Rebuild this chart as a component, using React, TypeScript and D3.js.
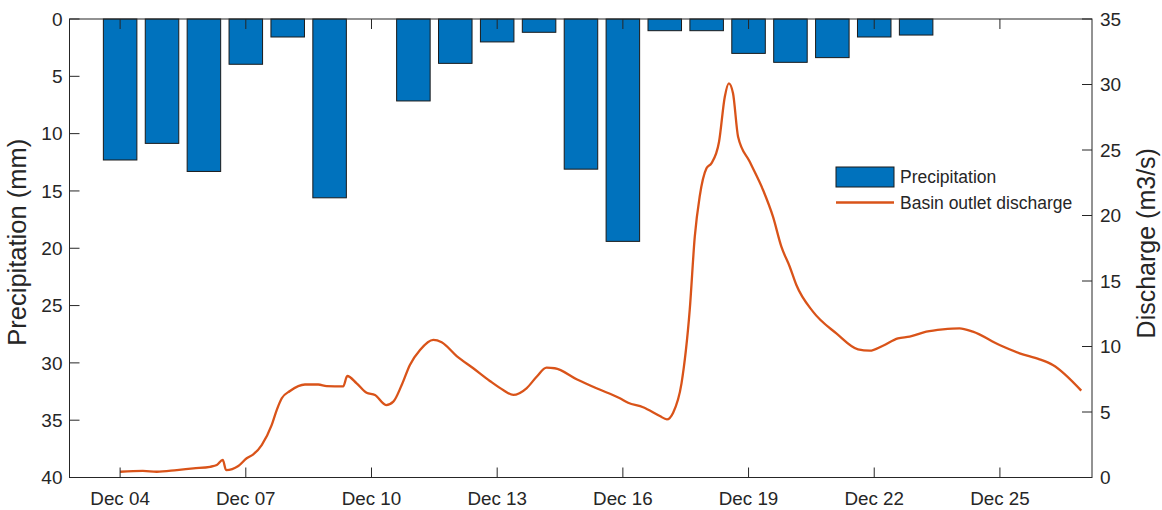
import React, { useRef, useEffect } from 'react';
import * as d3 from 'd3';

// daily precipitation (mm)
const precipDays = [
    '2019-12-04', '2019-12-05', '2019-12-06', '2019-12-07', '2019-12-08',
    '2019-12-09', '2019-12-10', '2019-12-11', '2019-12-12', '2019-12-13',
    '2019-12-14', '2019-12-15', '2019-12-16', '2019-12-17', '2019-12-18',
    '2019-12-19', '2019-12-20', '2019-12-21', '2019-12-22', '2019-12-23',
];
const precipValues = [
    12.3, 10.85, 13.3, 3.95, 1.57,
    15.6, 0, 7.15, 3.87, 2.0,
    1.16, 13.1, 19.4, 1.02, 1.02,
    3.0, 3.78, 3.37, 1.57, 1.4,
];

// basin outlet discharge (m3/s)
const dischargeTimes = [
    '2019-12-04T00:00', '2019-12-04T13:00', '2019-12-04T21:00', '2019-12-05T08:30', '2019-12-05T18:00',
    '2019-12-06T03:30', '2019-12-06T07:24', '2019-12-06T10:48', '2019-12-06T12:42', '2019-12-06T19:42',
    '2019-12-07T00:30', '2019-12-07T04:18', '2019-12-07T09:06', '2019-12-07T14:48', '2019-12-07T17:42',
    '2019-12-07T20:36', '2019-12-08T01:18', '2019-12-08T09:54', '2019-12-08T17:30', '2019-12-08T22:18',
    '2019-12-09T07:48', '2019-12-09T10:06', '2019-12-09T15:30', '2019-12-09T21:12', '2019-12-10T02:00',
    '2019-12-10T08:24', '2019-12-10T12:30', '2019-12-10T17:18', '2019-12-10T22:00', '2019-12-11T03:48',
    '2019-12-11T11:24', '2019-12-11T16:12', '2019-12-12T00:48', '2019-12-12T10:18', '2019-12-12T19:48',
    '2019-12-13T03:24', '2019-12-13T09:12', '2019-12-13T16:48', '2019-12-13T22:36', '2019-12-14T04:18',
    '2019-12-14T09:00', '2019-12-14T21:30', '2019-12-15T08:54', '2019-12-15T22:18', '2019-12-16T03:00',
    '2019-12-16T11:36', '2019-12-16T21:12', '2019-12-17T01:12', '2019-12-17T04:48', '2019-12-17T09:36',
    '2019-12-17T14:18', '2019-12-17T17:12', '2019-12-17T20:00', '2019-12-17T23:54', '2019-12-18T02:42',
    '2019-12-18T07:06', '2019-12-18T10:24', '2019-12-18T12:42', '2019-12-18T15:06', '2019-12-18T18:00',
    '2019-12-19T00:42', '2019-12-19T08:18', '2019-12-19T14:00', '2019-12-19T18:48', '2019-12-19T23:36',
    '2019-12-20T03:24', '2019-12-20T12:54', '2019-12-21T02:18', '2019-12-21T14:42', '2019-12-21T21:24',
    '2019-12-22T05:00', '2019-12-22T13:36', '2019-12-22T20:18', '2019-12-23T05:48', '2019-12-23T15:18',
    '2019-12-24T00:54', '2019-12-24T08:30', '2019-12-24T23:48', '2019-12-25T11:18', '2019-12-25T22:42',
    '2019-12-26T06:18', '2019-12-26T22:36',
];
const dischargeValues = [
    0.44, 0.5, 0.44, 0.57, 0.7,
    0.82, 0.95, 1.34, 0.57, 0.88,
    1.47, 1.77, 2.48, 4.0, 5.15,
    6.05, 6.6, 7.1, 7.1, 6.98,
    6.95, 7.75, 7.19, 6.47, 6.3,
    5.53, 5.79, 7.06, 8.59, 9.73,
    10.5, 10.32, 9.27, 8.34, 7.37,
    6.68, 6.3, 6.81, 7.69, 8.38,
    8.34, 7.5, 6.81, 6.05, 5.71,
    5.36, 4.69, 4.44, 4.95, 7.19,
    12.79, 18.38, 21.44, 23.6, 23.98,
    25.63, 29.07, 30.09, 29.33, 26.02,
    24.1, 21.95, 19.91, 17.62, 16.09,
    14.69, 12.66, 11.0, 9.78, 9.68,
    10.06, 10.62, 10.75, 11.13, 11.31,
    11.39, 11.13, 10.11, 9.48, 9.02,
    8.59, 6.63,
];

const xDomain = ['2019-12-02T19:00', '2019-12-27T04:45'];
const xTickDates = ['2019-12-04', '2019-12-07', '2019-12-10', '2019-12-13', '2019-12-16', '2019-12-19', '2019-12-22', '2019-12-25'];
const precipTicks = [0, 5, 10, 15, 20, 25, 30, 35, 40];
const dischargeTicks = [0, 5, 10, 15, 20, 25, 30, 35];

const parseDay = d3.timeParse('%Y-%m-%d');
const parseTime = d3.timeParse('%Y-%m-%dT%H:%M');

const W = 1162;
const H = 510;
const AXIS = '#262626';
const BAR = '#0072BD';
const LINE = '#D95319';
const FONT = '"Liberation Sans", Arial, Helvetica, sans-serif';

const Chart: React.FC = () => {
    const svgRef = useRef<SVGSVGElement | null>(null);

    useEffect(() => {
        if (!svgRef.current) return;

        const margin = { top: 19, right: 70, bottom: 32.5, left: 69.5 };
        const innerWidth = W - margin.left - margin.right;
        const innerHeight = H - margin.top - margin.bottom;

        const svg = d3.select(svgRef.current);
        svg.selectAll('*').remove();

        const g = svg.append('g')
            .attr('transform', `translate(${margin.left},${margin.top})`);

        const x = d3.scaleTime()
            .domain(xDomain.map(d => parseTime(d) as Date))
            .range([0, innerWidth]);

        // precipitation runs downward from the top
        const yP = d3.scaleLinear().domain([0, 40]).range([0, innerHeight]);
        const yQ = d3.scaleLinear().domain([0, 35]).range([innerHeight, 0]);

        // bars
        const bars = precipDays.map((d, i) => ({ date: parseDay(d) as Date, value: precipValues[i] }));
        const halfBar = (b: Date) => (x(d3.timeMinute.offset(b, 0.4 * 1440)) - x(b));
        g.selectAll('.bar')
            .data(bars.filter(b => b.value > 0))
            .enter().append('rect')
            .attr('class', 'bar')
            .attr('x', d => x(d.date) - halfBar(d.date))
            .attr('y', yP(0))
            .attr('width', d => 2 * halfBar(d.date))
            .attr('height', d => yP(d.value) - yP(0))
            .attr('fill', BAR)
            .attr('stroke', '#1a1a1a')
            .attr('stroke-width', 1);

        // discharge line
        const pts = dischargeTimes.map((t, i) => ({ date: parseTime(t) as Date, value: dischargeValues[i] }));
        const line = d3.line<{ date: Date; value: number }>()
            .x(d => x(d.date))
            .y(d => yQ(d.value))
            .curve(d3.curveMonotoneX);
        g.append('path')
            .datum(pts)
            .attr('d', line)
            .attr('fill', 'none')
            .attr('stroke', LINE)
            .attr('stroke-width', 2.3)
            .attr('stroke-linejoin', 'round');

        // box
        g.append('rect')
            .attr('x', 0).attr('y', 0)
            .attr('width', innerWidth).attr('height', innerHeight)
            .attr('fill', 'none')
            .attr('stroke', AXIS)
            .attr('stroke-width', 1);

        const tickLen = 10;

        // x ticks top and bottom, inward
        const xt = xTickDates.map(d => parseDay(d) as Date);
        g.selectAll('.xtick-b')
            .data(xt).enter().append('line')
            .attr('x1', d => x(d)).attr('x2', d => x(d))
            .attr('y1', innerHeight).attr('y2', innerHeight - tickLen)
            .attr('stroke', AXIS);
        g.selectAll('.xtick-t')
            .data(xt).enter().append('line')
            .attr('x1', d => x(d)).attr('x2', d => x(d))
            .attr('y1', 0).attr('y2', tickLen)
            .attr('stroke', AXIS);
        g.selectAll('.xlabel')
            .data(xt).enter().append('text')
            .attr('x', d => x(d))
            .attr('y', innerHeight + 27)
            .attr('text-anchor', 'middle')
            .attr('fill', AXIS)
            .style('font-size', '18.8px')
            .text(d => d3.timeFormat('%b %d')(d));

        // left axis
        g.selectAll('.ytick-l')
            .data(precipTicks).enter().append('line')
            .attr('x1', 0).attr('x2', tickLen)
            .attr('y1', d => yP(d)).attr('y2', d => yP(d))
            .attr('stroke', AXIS);
        g.selectAll('.ylabel-l')
            .data(precipTicks).enter().append('text')
            .attr('x', -7)
            .attr('y', d => yP(d))
            .attr('dy', '0.35em')
            .attr('text-anchor', 'end')
            .attr('fill', AXIS)
            .style('font-size', '19px')
            .text(d => d);

        // right axis
        g.selectAll('.ytick-r')
            .data(dischargeTicks).enter().append('line')
            .attr('x1', innerWidth).attr('x2', innerWidth - tickLen)
            .attr('y1', d => yQ(d)).attr('y2', d => yQ(d))
            .attr('stroke', AXIS);
        g.selectAll('.ylabel-r')
            .data(dischargeTicks).enter().append('text')
            .attr('x', innerWidth + 8)
            .attr('y', d => yQ(d))
            .attr('dy', '0.35em')
            .attr('text-anchor', 'start')
            .attr('fill', AXIS)
            .style('font-size', '19px')
            .text(d => d);

        // axis titles
        g.append('text')
            .attr('transform', `translate(${-44},${innerHeight / 2 - 6}) rotate(-90)`)
            .attr('text-anchor', 'middle')
            .attr('fill', AXIS)
            .style('font-size', '25.5px')
            .text('Precipitation (mm)');
        g.append('text')
            .attr('transform', `translate(${innerWidth + 63},${innerHeight / 2 - 5}) rotate(-90)`)
            .attr('text-anchor', 'middle')
            .attr('fill', AXIS)
            .style('font-size', '25px')
            .text('Discharge (m3/s)');

        // legend
        const lg = svg.append('g').attr('transform', 'translate(836,167)');
        lg.append('rect')
            .attr('x', 0).attr('y', 0)
            .attr('width', 58).attr('height', 20)
            .attr('fill', BAR)
            .attr('stroke', '#1a1a1a');
        lg.append('text')
            .attr('x', 64).attr('y', 16)
            .attr('fill', AXIS)
            .style('font-size', '17.5px')
            .text('Precipitation');
        lg.append('line')
            .attr('x1', 0).attr('x2', 58)
            .attr('y1', 35.5).attr('y2', 35.5)
            .attr('stroke', LINE)
            .attr('stroke-width', 2.3);
        lg.append('text')
            .attr('x', 64).attr('y', 42)
            .attr('fill', AXIS)
            .style('font-size', '17.5px')
            .text('Basin outlet discharge');
    }, []);

    return (
        <svg
            ref={svgRef}
            width={W}
            height={H}
            style={{ position: 'absolute', left: 0, top: 0, fontFamily: FONT, background: '#fff' }}
        />
    );
};

export default function App() {
    return <Chart />;
}
